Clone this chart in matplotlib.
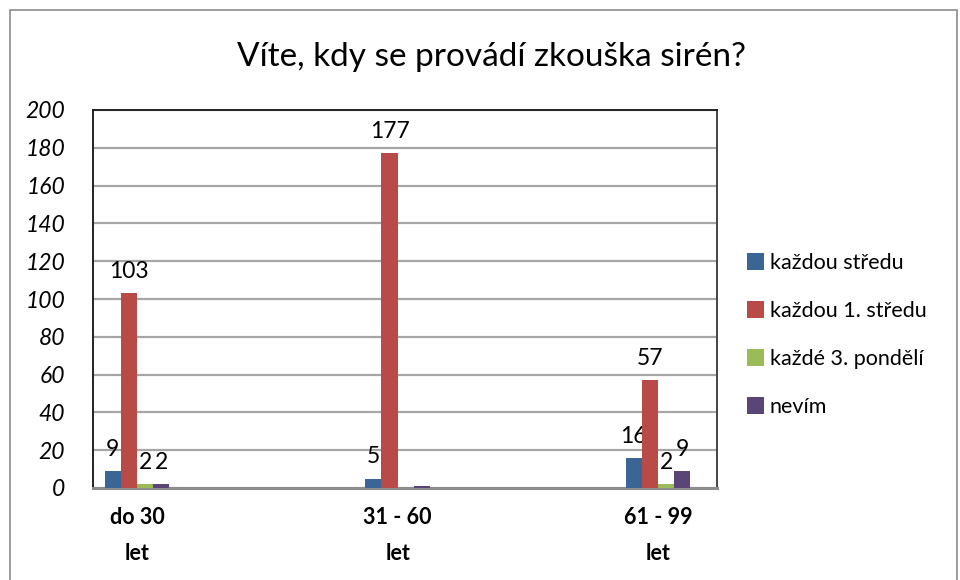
import numpy as np
import matplotlib.pyplot as plt
from matplotlib.patches import Rectangle

# data
categories = ["do 30\nlet", "31 - 60\nlet", "61 - 99\nlet"]
series = ["každou středu", "každou 1. středu", "každé 3. pondělí", "nevím"]
kazdou_stredu = [9, 5, 16]
kazdou_1_stredu = [103, 177, 57]
kazde_3_pondeli = [2, 0, 2]
nevim = [2, 1, 9]
labels = [["9", "5", "16"],
          ["103", "177", "57"],
          ["2", "", "2"],
          ["2", "", "9"]]
colors = ["#3A6595", "#B84A47", "#9BBB59", "#5A4676"]

plt.rcParams['font.family'] = ['Lato', 'DejaVu Sans']

fig = plt.figure(figsize=(9.6, 5.8), dpi=100)
ax = fig.add_axes([93/960, 1 - 488/580, (717-93)/960, (488-110)/580])

x = np.arange(len(categories))
w = 0.062
values = [kazdou_stredu, kazdou_1_stredu, kazde_3_pondeli, nevim]
for i, vals in enumerate(values):
    bars = ax.bar(x + (i - 1.5) * w, vals, w, color=colors[i], label=series[i], zorder=3)
    ax.bar_label(bars, labels=labels[i], padding=8, fontsize=16.5, color='black')

ax.set_ylim(0, 200)
ax.set_xlim(-0.169, 2.226)
ax.set_yticks(np.arange(0, 201, 20))
ax.set_yticklabels([str(v) for v in range(0, 201, 20)], fontstyle='italic', fontsize=16.5)
ax.set_xticks(x)
ax.set_xticklabels(categories, fontweight='bold', fontsize=15.5, linespacing=1.85)
ax.tick_params(axis='both', length=0)
ax.tick_params(axis='y', pad=20)
ax.tick_params(axis='x', pad=14)
ax.yaxis.grid(True, color='#A6A6A6', linewidth=1.6, zorder=0)

for s in ['left', 'top']:
    ax.spines[s].set_color('#222222')
    ax.spines[s].set_linewidth(1.4)
ax.spines['right'].set_color('#444444')
ax.spines['right'].set_linewidth(1.4)
ax.spines['bottom'].set_color('#8C8C8C')
ax.spines['bottom'].set_linewidth(2.2)

fig.text(492/960, 1 - 57/580, "Víte, kdy se provádí zkouška sirén?", ha='center', va='center', fontsize=24)

fig.legend(loc='center left', bbox_to_anchor=(0.758, 0.4224), frameon=False, fontsize=15.5,
           handlelength=0.8, handleheight=0.8, handletextpad=0.25, labelspacing=1.3)

# outer chart border
fig.add_artist(Rectangle((10/960, -0.05), (957-10)/960, 1.05 - 10/580, transform=fig.transFigure,
                         fill=False, edgecolor='#8C8C8C', linewidth=1.2))

fig.savefig("out.png", dpi=100)
